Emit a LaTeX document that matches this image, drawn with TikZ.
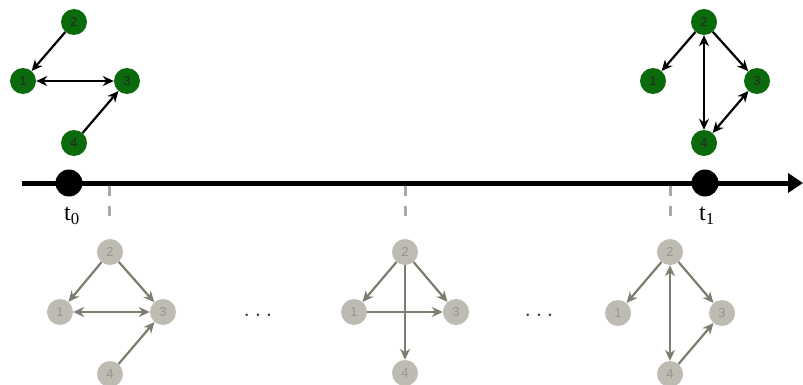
\documentclass[tikz,border=0pt]{standalone}
\usepackage{fontspec}
\setmainfont{Liberation Serif}
\newfontfamily\labelfont{Liberation Sans}
\usetikzlibrary{arrows.meta}
\definecolor{Leaf}{HTML}{0B6A0B}
\definecolor{Stone}{HTML}{BEBBB3}
\definecolor{StoneText}{HTML}{979489}
\definecolor{Olive}{HTML}{7E7C6E}
\definecolor{Tick}{HTML}{A9A9A9}

\begin{document}
\begin{tikzpicture}[x=1pt,y=-1pt,
  live/.style={circle,fill=Leaf,minimum size=26pt,inner sep=0pt,font=\labelfont\fontsize{13}{13}\selectfont,text=black!85},
  past/.style={circle,fill=Stone,minimum size=26pt,inner sep=0pt,font=\labelfont\fontsize{13}{13}\selectfont,text=StoneText},
  liveedge/.style={black,line width=2.2pt,-{Stealth[length=11pt,width=10pt]}},
  pastedge/.style={Olive,line width=2.2pt,-{Stealth[length=11pt,width=10pt]}},
  twoway/.style={{Stealth[length=11pt,width=10pt]}-{Stealth[length=11pt,width=10pt]}},
  stamp/.style={circle,fill=black,minimum size=27pt,inner sep=0pt},
  snapline/.style={Tick,line width=3pt,dash pattern=on 10pt off 10pt}]
  \useasboundingbox (0,0) rectangle (803,385);
  % time axis
  \coordinate (start) at (22,183);
  \coordinate (stop) at (803,183);
  \draw[line width=5pt,-{Triangle[length=15pt,width=19pt]}] (start) -- (stop);
  \node[stamp] (d0) at (69,183) {};
  \node[stamp] (d1) at (705,183) {};
  \node[font=\fontsize{24}{26}\selectfont] at (72,216) {t\textsubscript{0}};
  \node[font=\fontsize{24}{26}\selectfont] at (707,216) {t\textsubscript{1}};
  % snapshot ticks
  \draw[snapline] (109,186) -- (109,222);
  \draw[snapline] (405,186) -- (405,222);
  \draw[snapline] (670,186) -- (670,222);
  % graph at t0
  \node[live] (a2) at (74,22) {2};
  \node[live] (a1) at (23,81) {1};
  \node[live] (a3) at (127,81) {3};
  \node[live] (a4) at (74,143) {4};
  \draw[liveedge] (a2) -- (a1);
  \draw[liveedge,twoway] (a1) -- (a3);
  \draw[liveedge] (a4) -- (a3);
  % graph at t1
  \node[live] (b2) at (704,22) {2};
  \node[live] (b1) at (653,81) {1};
  \node[live] (b3) at (757,81) {3};
  \node[live] (b4) at (704,143) {4};
  \draw[liveedge] (b2) -- (b1);
  \draw[liveedge] (b2) -- (b3);
  \draw[liveedge,twoway] (b2) -- (b4);
  \draw[liveedge,twoway] (b4) -- (b3);
  % intermediate snapshots
  \node[past] (c2) at (110,252) {2};
  \node[past] (c1) at (60,312) {1};
  \node[past] (c3) at (163,312) {3};
  \node[past] (c4) at (110,374) {4};
  \draw[pastedge] (c2) -- (c1);
  \draw[pastedge] (c2) -- (c3);
  \draw[pastedge,twoway] (c1) -- (c3);
  \draw[pastedge] (c4) -- (c3);
  \node[past] (e2) at (405,252) {2};
  \node[past] (e1) at (354,312) {1};
  \node[past] (e3) at (456,312) {3};
  \node[past] (e4) at (405,373) {4};
  \draw[pastedge] (e2) -- (e1);
  \draw[pastedge] (e2) -- (e3);
  \draw[pastedge] (e2) -- (e4);
  \draw[pastedge] (e1) -- (e3);
  \node[past] (f2) at (670,252) {2};
  \node[past] (f1) at (618,313) {1};
  \node[past] (f3) at (722,313) {3};
  \node[past] (f4) at (670,374) {4};
  \draw[pastedge] (f2) -- (f1);
  \draw[pastedge] (f2) -- (f3);
  \draw[pastedge,twoway] (f2) -- (f4);
  \draw[pastedge] (f4) -- (f3);
  % elided snapshots
  \node[text=black!75,font=\fontsize{32}{32}\selectfont] (gap1) at (258,316) {$\cdots$};
  \node[text=black!75,font=\fontsize{32}{32}\selectfont] (gap2) at (539,316) {$\cdots$};
\end{tikzpicture}
\end{document}
